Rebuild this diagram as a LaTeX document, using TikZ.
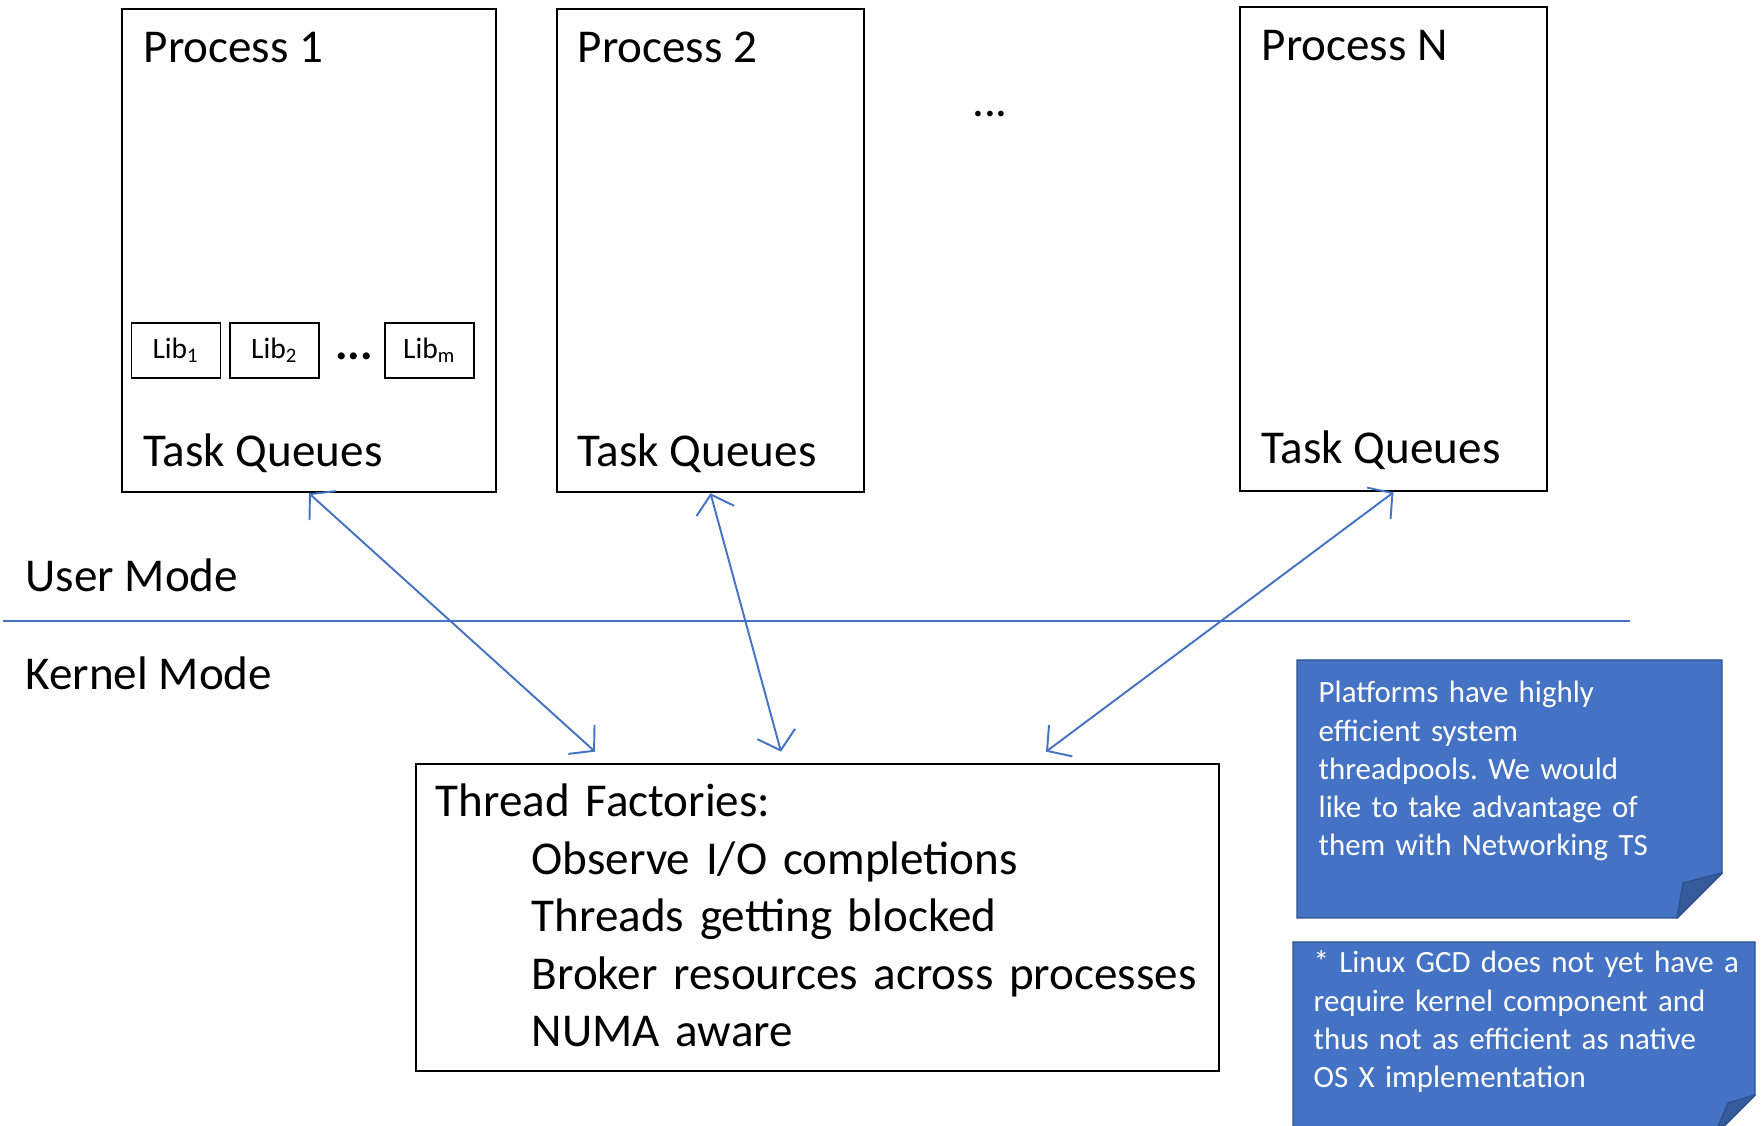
\documentclass[tikz,border=0pt]{standalone}
\usepackage{fontspec}
\setmainfont{Carlito}
\usetikzlibrary{arrows.meta, positioning}
\definecolor{office}{HTML}{4472C4}
\definecolor{officedark}{HTML}{2F528F}
\frenchspacing

\begin{document}
\begin{tikzpicture}[
    proc/.style={rectangle, draw=black, line width=0.75pt, minimum width=3.07cm, minimum height=4.83cm},
    lib/.style={rectangle, draw=black, line width=0.45pt, minimum width=0.89cm, minimum height=0.55cm,
                inner sep=0pt, font=\fontsize{8.4}{10}\selectfont},
    big/.style={font=\fontsize{13.4}{16.35}\selectfont, inner sep=0pt},
    notetxt/.style={font=\fontsize{8.8}{10.85}\selectfont, text=white, inner sep=0pt, text width=4.35cm, align=left},
    notebg/.style={fill=office, draw=officedark, line width=0.4pt},
    fold/.style={fill=office!80!black, draw=officedark, line width=0.4pt, line join=round},
    arr/.style={{Straight Barb[length=1.7mm,width=3.9mm]}-{Straight Barb[length=1.7mm,width=3.9mm]}, office, line width=0.55pt}
]
\useasboundingbox (0,0) rectangle (17.61,11.26);

\node[proc, minimum width=3.74cm] (p1) at (3.09,8.755) {};
\node[proc] (p2) at (7.105,8.755) {};
\node[proc, minimum height=4.84cm] (pn) at (13.935,8.77) {};

\node[big, anchor=base west] (t1) at (1.43,10.63) {Process 1};
\node[big, anchor=base west] (t2) at (5.77,10.63) {Process 2};
\node[big, anchor=base west] (tn) at (12.61,10.65) {Process N};
\node[big, anchor=base] (more) at (9.90,10.09) {...};

\node[lib] (l1) at (1.76,7.755) {Lib\textsubscript{1}};
\node[lib] (l2) at (2.747,7.755) {Lib\textsubscript{2}};
\node[big, anchor=base] (ldots) at (3.54,7.665) {\bfseries ...};
\node[lib] (lm) at (4.297,7.755) {Lib\textsubscript{m}};

\node[big, anchor=base west] (q1) at (1.43,6.595) {Task Queues};
\node[big, anchor=base west] (q2) at (5.77,6.595) {Task Queues};
\node[big, anchor=base west] (qn) at (12.61,6.62) {Task Queues};

\node[big, anchor=base west] (um) at (0.25,5.34) {User Mode};
\node[big, anchor=base west] (km) at (0.25,4.36) {Kernel Mode};
\draw[office, line width=0.4pt] (0.03,5.05) -- (16.30,5.05);

\node[rectangle, draw=black, line width=0.75pt, minimum width=8.03cm, minimum height=3.07cm] (tf) at (8.175,2.085) {};
\node[big, anchor=base west, text width=7.8cm, align=left] (tft) at (4.35,3.09)
    {Thread Factories:\\
     \hspace*{0.96cm}Observe I/O completions\\
     \hspace*{0.96cm}Threads getting blocked\\
     \hspace*{0.96cm}Broker resources across processes\\
     \hspace*{0.96cm}NUMA aware};

\draw[arr] (p1.south) -- ([xshift=-2.225cm,yshift=1.1mm]tf.north);
\draw[arr] (p2.south) -- ([xshift=-0.365cm,yshift=1.1mm]tf.north);
\draw[arr] (pn.south) -- ([xshift=2.285cm,yshift=1.1mm]tf.north);

\path[notebg] (12.97,4.66) -- (17.22,4.66) -- (17.22,2.53) -- (16.77,2.08) -- (12.97,2.08) -- cycle;
\path[fold] (16.77,2.08) -- (16.83,2.43) -- (17.22,2.53) -- cycle;
\node[notetxt, anchor=base west] (n1) at (13.18,4.23)
    {Platforms have highly\\ efficient system\\ threadpools. We would\\ like to take advantage of\\ them with Networking TS};

\path[notebg] (12.93,1.84) -- (17.55,1.84) -- (17.55,0.31) -- (17.14,-0.10) -- (12.93,-0.10) -- cycle;
\path[fold] (17.14,-0.10) -- (17.28,0.23) -- (17.55,0.31) -- cycle;
\node[notetxt, anchor=base west] (n2) at (13.13,1.53)
    {* Linux GCD does not yet have a\\ require kernel component and\\ thus not as efficient as native\\ OS X implementation};
\end{tikzpicture}
\end{document}
